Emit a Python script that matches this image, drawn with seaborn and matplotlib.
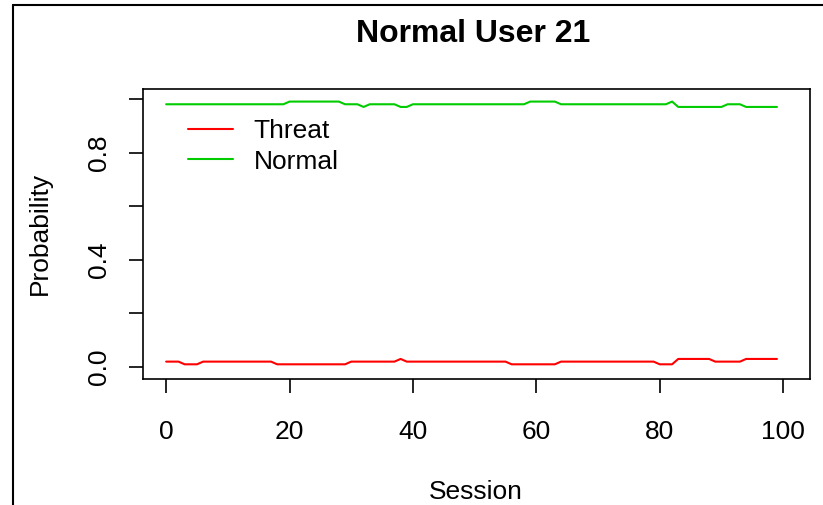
import numpy as np
import pandas as pd
import matplotlib
matplotlib.use("Agg")
import matplotlib.pyplot as plt
import seaborn as sns
from matplotlib.lines import Line2D

# -------------------- DATA --------------------
sessions = list(range(100))

threat_prob = [
    0.02, 0.02, 0.02, 0.01, 0.01, 0.01, 0.02, 0.02, 0.02, 0.02,
    0.02, 0.02, 0.02, 0.02, 0.02, 0.02, 0.02, 0.02, 0.01, 0.01,
    0.01, 0.01, 0.01, 0.01, 0.01, 0.01, 0.01, 0.01, 0.01, 0.01,
    0.02, 0.02, 0.02, 0.02, 0.02, 0.02, 0.02, 0.02, 0.03, 0.02,
    0.02, 0.02, 0.02, 0.02, 0.02, 0.02, 0.02, 0.02, 0.02, 0.02,
    0.02, 0.02, 0.02, 0.02, 0.02, 0.02, 0.01, 0.01, 0.01, 0.01,
    0.01, 0.01, 0.01, 0.01, 0.02, 0.02, 0.02, 0.02, 0.02, 0.02,
    0.02, 0.02, 0.02, 0.02, 0.02, 0.02, 0.02, 0.02, 0.02, 0.02,
    0.01, 0.01, 0.01, 0.03, 0.03, 0.03, 0.03, 0.03, 0.03, 0.02,
    0.02, 0.02, 0.02, 0.02, 0.03, 0.03, 0.03, 0.03, 0.03, 0.03,
]

normal_prob = [
    0.98, 0.98, 0.98, 0.98, 0.98, 0.98, 0.98, 0.98, 0.98, 0.98,
    0.98, 0.98, 0.98, 0.98, 0.98, 0.98, 0.98, 0.98, 0.98, 0.98,
    0.99, 0.99, 0.99, 0.99, 0.99, 0.99, 0.99, 0.99, 0.99, 0.98,
    0.98, 0.98, 0.97, 0.98, 0.98, 0.98, 0.98, 0.98, 0.97, 0.97,
    0.98, 0.98, 0.98, 0.98, 0.98, 0.98, 0.98, 0.98, 0.98, 0.98,
    0.98, 0.98, 0.98, 0.98, 0.98, 0.98, 0.98, 0.98, 0.98, 0.99,
    0.99, 0.99, 0.99, 0.99, 0.98, 0.98, 0.98, 0.98, 0.98, 0.98,
    0.98, 0.98, 0.98, 0.98, 0.98, 0.98, 0.98, 0.98, 0.98, 0.98,
    0.98, 0.98, 0.99, 0.97, 0.97, 0.97, 0.97, 0.97, 0.97, 0.97,
    0.97, 0.98, 0.98, 0.98, 0.97, 0.97, 0.97, 0.97, 0.97, 0.97,
]

series_names = ["Threat", "Normal"]
series_colors = ["#FF0000", "#00CC00"]

x_ticks = [0, 20, 40, 60, 80, 100]
y_ticks = [0.0, 0.2, 0.4, 0.6, 0.8, 1.0]
y_tick_labels = ["0.0", "", "0.4", "", "0.8", ""]

title = "Normal User 21"

# -------------------- PLOT --------------------
df = pd.DataFrame({
    "Session": sessions * 2,
    "Probability": threat_prob + normal_prob,
    "Class": ["Threat"] * len(sessions) + ["Normal"] * len(sessions),
})

sns.set_style("white")
plt.rcParams["font.family"] = ["Liberation Sans", "DejaVu Sans"]
plt.rcParams["text.color"] = "black"
plt.rcParams["axes.labelcolor"] = "black"

fig = plt.figure(figsize=(8.23, 5.05), dpi=100)
ax = fig.add_axes([0.1734, 0.2501, 0.9838 - 0.1734, 0.8238 - 0.2501])

sns.lineplot(data=df, x="Session", y="Probability", hue="Class",
             hue_order=series_names, palette=series_colors,
             linewidth=1.5, ax=ax)

ax.set_xlim(-3.8, 104.3)
ax.set_ylim(-0.0437, 1.037)

ax.set_xticks(x_ticks)
ax.set_xticklabels([str(t) for t in x_ticks])
ax.set_yticks(y_ticks)
ax.set_yticklabels(y_tick_labels, rotation=90, va="center")

ax.tick_params(axis="both", direction="out", length=10, width=1.2,
               colors="black", labelcolor="black", labelsize=19,
               left=True, bottom=True)
ax.tick_params(axis="x", pad=20)
ax.tick_params(axis="y", pad=13)

for s in ax.spines.values():
    s.set_visible(True)
    s.set_color("black")
    s.set_linewidth(1.2)

ax.set_xlabel("Session", fontsize=19, labelpad=26, color="black")
ax.set_ylabel("Probability", fontsize=19, labelpad=25, color="black")
fig.suptitle(title, fontsize=23, fontweight="bold", x=0.575, y=0.962,
             color="black")

handles = [Line2D([0], [0], color=c, lw=1.5) for c in series_colors]
ax.legend(handles, series_names, loc="upper left", frameon=False,
          fontsize=19, handlelength=1.7, handletextpad=0.8,
          labelspacing=0.25, bbox_to_anchor=(0.032, 0.978),
          labelcolor="black")

# outer frame (left and top edges of the original device region)
fig.add_artist(Line2D([12.5 / 823, 12.5 / 823], [0, 1 - 4.7 / 505],
                      transform=fig.transFigure, color="black", lw=1.5))
fig.add_artist(Line2D([12.5 / 823, 1], [1 - 4.7 / 505, 1 - 4.7 / 505],
                      transform=fig.transFigure, color="black", lw=1.5))

fig.savefig("out.png", dpi=100)
